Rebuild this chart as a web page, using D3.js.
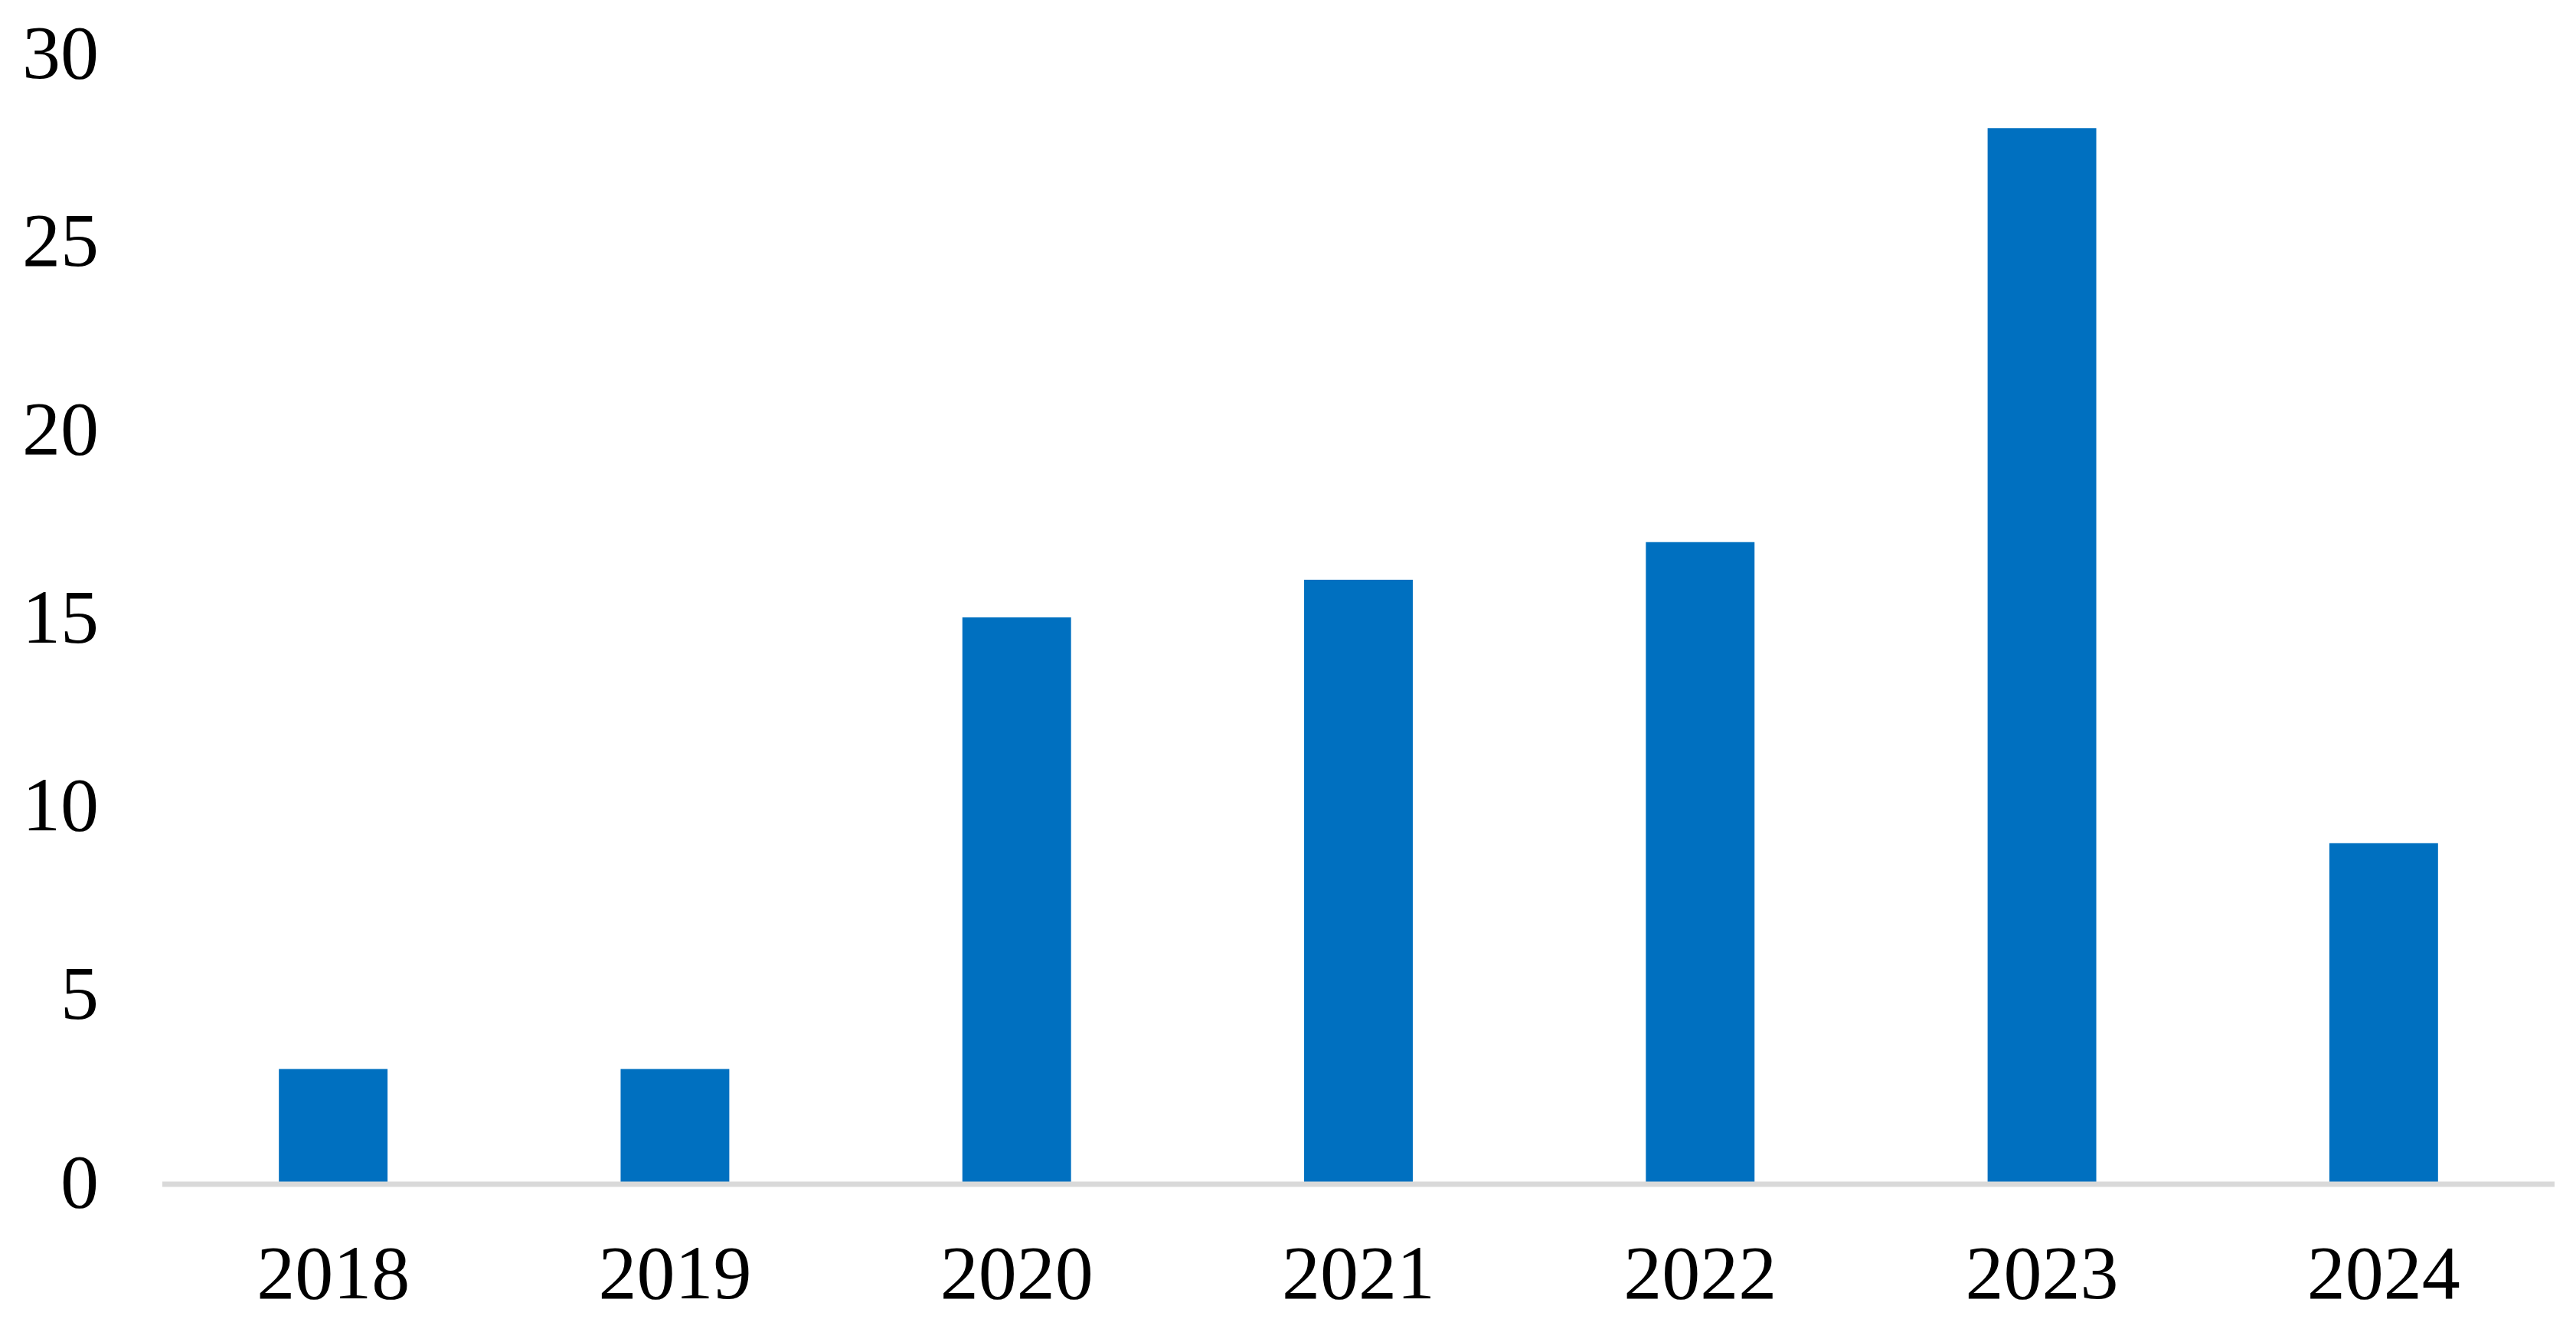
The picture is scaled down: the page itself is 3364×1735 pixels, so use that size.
<!DOCTYPE html>
<html>
<head>
<meta charset="utf-8">
<script src="https://cdn.jsdelivr.net/npm/d3@7"></script>
<style>
  html, body { margin: 0; padding: 0; background: #fff; }
  svg { display: block; }
</style>
</head>
<body>
<svg id="chart"></svg>
<script>
const years = ["2018", "2019", "2020", "2021", "2022", "2023", "2024"];
const counts = [3, 3, 15, 16, 17, 28, 9];
const yTicks = [0, 5, 10, 15, 20, 25, 30];

const width = 3364, height = 1735;
const plotLeft = 212, plotRight = 3336, plotTop = 69, plotBottom = 1543;

const svg = d3.select("#chart")
    .attr("width", width)
    .attr("height", height);

const x = d3.scaleBand()
    .domain(years)
    .range([plotLeft, plotRight])
    .paddingInner(0.682)
    .paddingOuter(0.341);

const y = d3.scaleLinear()
    .domain([0, 30])
    .range([plotBottom, plotTop]);

const font = "'Liberation Serif', 'Times New Roman', serif";

// bars
svg.append("g")
    .selectAll("rect")
    .data(years)
    .enter().append("rect")
    .attr("x", d => x(d))
    .attr("y", (d, i) => y(counts[i]))
    .attr("width", x.bandwidth())
    .attr("height", (d, i) => y(0) - y(counts[i]))
    .attr("fill", "#0070C0");

// x axis line + labels
const xAxis = svg.append("g")
    .attr("transform", `translate(0,${plotBottom + 3})`)
    .call(d3.axisBottom(x).tickSize(0).tickPadding(78));
xAxis.select(".domain")
    .attr("stroke", "#D9D9D9")
    .attr("stroke-width", 7)
    .attr("d", `M${plotLeft},0H${plotRight}`);
xAxis.selectAll("text")
    .attr("font-family", font)
    .attr("font-size", 100)
    .attr("fill", "#000");

// y axis labels only
const yAxis = svg.append("g")
    .attr("transform", `translate(129,0)`)
    .call(d3.axisLeft(y).tickValues(yTicks).tickSize(0).tickPadding(0));
yAxis.select(".domain").remove();
yAxis.selectAll("text")
    .attr("font-family", font)
    .attr("font-size", 100)
    .attr("fill", "#000");
</script>
</body>
</html>
